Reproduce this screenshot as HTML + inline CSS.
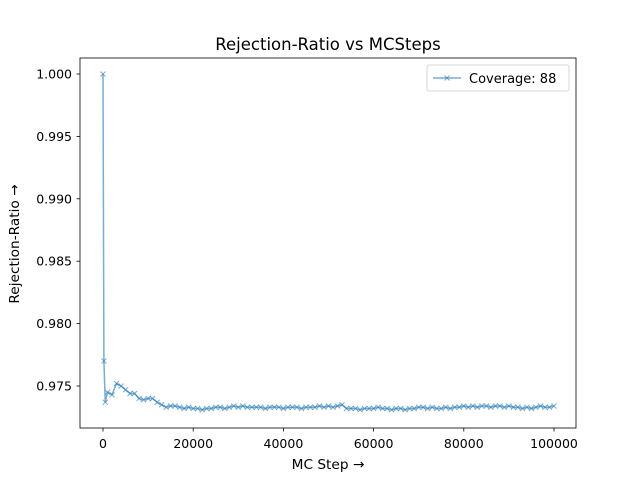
<!DOCTYPE html>
<html><head><meta charset="utf-8"><style>
body{margin:0;background:#fff;font-family:"Liberation Sans","DejaVu Sans",sans-serif}
svg text{font-family:"DejaVu Sans","Liberation Sans",sans-serif;fill:#000}
</style></head><body>
<svg id="chart" width="640" height="480" xmlns="http://www.w3.org/2000/svg">
<rect width="640" height="480" fill="#fff"/>
<text x="328" y="50" font-size="16.5" text-anchor="middle">Rejection-Ratio vs MCSteps</text>
<text x="328" y="469" font-size="13.7" text-anchor="middle">MC Step →</text>
<text transform="translate(19,244) rotate(-90)" font-size="13.7" text-anchor="middle">Rejection-Ratio →</text>
<g id="ticks"></g>
<g id="series"></g>
<rect x="80" y="58" width="496" height="370" fill="none" stroke="#000" stroke-width="0.8"/>
<g>
<rect x="427" y="65" width="142" height="26" rx="2" fill="#fff" stroke="#ccc" stroke-width="0.8"/>
<line x1="433" y1="78" x2="461" y2="78" stroke="#1f77b4" stroke-opacity="0.6" stroke-width="1.5"/>
<path d="M444.5,75.5L449.5,80.5M444.5,80.5L449.5,75.5" stroke="#1f77b4" stroke-opacity="0.6" stroke-width="1"/>
<text x="469" y="83" font-size="13">Coverage: 88</text>
</g>
</svg>
<script>
const xTicks=[0,20000,40000,60000,80000,100000];
const yTicks=[0.975,0.980,0.985,0.990,0.995,1.000];
const steps=[0,200,500,1000,2000,3000,4000,5000,6000,7000,8000,9000,10000,11000,12000,13000,14000,15000];
const values=[1.0000,0.9770,0.9737,0.9745,0.9743,0.9752,0.9750,0.9747,0.9744,0.9744,0.9740,0.9739,0.9740,0.9740,0.9737,0.9735,0.9733,0.9734];
const tail=[0.9734,0.9733,0.9732,0.9733,0.9732,0.9732,0.9731,0.9732,0.9732,0.9733,0.9733,0.9732,0.9733,0.9734,0.9733,0.9734,0.9733,0.9733,0.9733,0.9733,0.9732,0.9733,0.9733,0.9733,0.9732,0.9733,0.9733,0.9733,0.9732,0.9733,0.9733,0.9733,0.9734,0.9733,0.9734,0.9733,0.9734,0.9735,0.9732,0.9732,0.9732,0.9731,0.9732,0.9732,0.9732,0.9733,0.9732,0.9732,0.9731,0.9732,0.9732,0.9731,0.9732,0.9732,0.9733,0.9733,0.9732,0.9733,0.9732,0.9732,0.9733,0.9732,0.9733,0.9733,0.9734,0.9733,0.9734,0.9733,0.9734,0.9734,0.9733,0.9734,0.9734,0.9733,0.9734,0.9733,0.9733,0.9732,0.9733,0.9732,0.9733,0.9734,0.9733,0.9733,0.9734];
for(let i=0;i<tail.length;i++){steps.push(16000+i*1000);values.push(tail[i]);}
const X=v=>103+v*(554-103)/100000;
const Y=v=>386-(v-0.975)*(386-74)/0.025;
const NS="http://www.w3.org/2000/svg";
const tg=document.getElementById('ticks'),sg=document.getElementById('series');
function mk(t,a,p){const e=document.createElementNS(NS,t);for(const k in a)e.setAttribute(k,a[k]);p.appendChild(e);return e;}
xTicks.forEach(t=>{const x=X(t);
const l=mk('line',{x1:x,x2:x,y1:428,y2:431.5,stroke:'#000','stroke-width':0.8},tg);


const s=mk('text',{x:x,y:448,'font-size':12.5,'text-anchor':'middle'},tg);s.textContent=t;

});
yTicks.forEach(t=>{const y=Y(t);
const l=mk('line',{x1:76.5,x2:80,y1:y,y2:y,stroke:'#000','stroke-width':0.8},tg);


const s=mk('text',{x:72,y:y+4.5,'font-size':12.5,'text-anchor':'end'},tg);s.textContent=t.toFixed(3);

});
const pts=steps.map((s,i)=>X(s).toFixed(2)+','+Y(values[i]).toFixed(2)).join(' ');
const pl=mk('polyline',{points:pts,fill:'none',stroke:'#1f77b4','stroke-opacity':0.6,'stroke-width':1.5},sg);


steps.forEach((s,i)=>{const x=X(s),y=Y(values[i]);
const m=mk('path',{d:`M${x-2.5},${y-2.5}L${x+2.5},${y+2.5}M${x-2.5},${y+2.5}L${x+2.5},${y-2.5}`,stroke:'#1f77b4','stroke-opacity':0.6,'stroke-width':1},sg);

});
</script>
</body></html>
